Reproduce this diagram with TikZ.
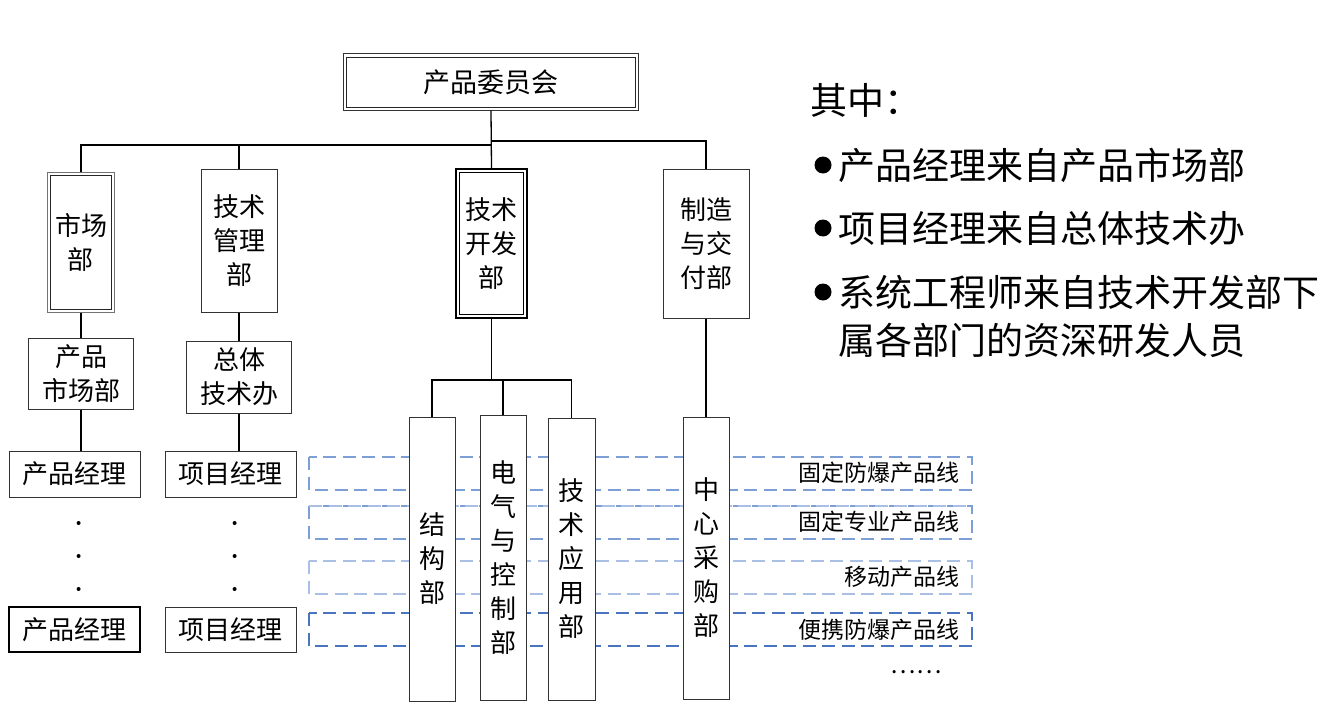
\documentclass[tikz,border=0pt]{standalone}
\usepackage{fontspec}
\setmainfont{Noto Sans CJK SC}
\usetikzlibrary{calc}
\definecolor{lineA}{HTML}{7E9FD6}
\definecolor{lineB}{HTML}{A9C0E4}
\definecolor{lineC}{HTML}{4A74BE}

\begin{document}
\begin{tikzpicture}[x=1pt,y=-1pt,
  box/.style={draw=black!80, line width=1pt, fill=white, align=center, inner sep=0pt,
    font=\fontsize{26}{34}\selectfont},
  conn/.style={line width=1.3pt},
  pline/.style={dash pattern=on 13pt off 6.5pt, line width=1.1pt},
  plabel/.style={inner sep=0pt, anchor=east, font=\fontsize{23}{27}\selectfont},
  note/.style={inner sep=0pt, anchor=west, align=left, font=\fontsize{37}{48}\selectfont}]
\useasboundingbox (0,0) rectangle (1336,717);

% product lines
\draw[pline, lineA] (309,457) rectangle (972,490);
\draw[pline, lineA] (309,506) rectangle (972,539);
\draw[pline, lineB] (309,506) -- (972,506);
\draw[pline, lineB] (309,561) rectangle (972,594);
\draw[pline, lineC, line width=1.6pt] (309,613) rectangle (972,646);
\node[plabel] (pl1) at (960,473) {固定防爆产品线};
\node[plabel] (pl2) at (960,522) {固定专业产品线};
\node[plabel] (pl3) at (960,577) {移动产品线};
\node[plabel] (pl4) at (960,630) {便携防爆产品线};
\node[inner sep=0pt, font=\fontsize{24}{28}\selectfont] (more) at (916,672) {……};

% departments
\node[box, font=\fontsize{27}{34}\selectfont, minimum width=295pt, minimum height=56pt] (board) at (491,82) {产品委员会};
\node[box, draw=black!55, minimum width=67pt, minimum height=140pt] (mkt) at (81,242) {市场\\部};
\node[box, minimum width=76pt, minimum height=143pt] (tech) at (239,240.5) {技术\\管理\\部};
\node[box, draw=black, line width=2.2pt, minimum width=71pt, minimum height=149pt] (dev) at (491.5,243.5) {技术\\开发\\部};
\node[box, minimum width=86pt, minimum height=149pt] (mfg) at (706,243.5) {制造\\与交\\付部};
\draw[black!85] ([xshift=3.5pt,yshift=-3.5pt]board.north west) rectangle ([xshift=-3.5pt,yshift=3.5pt]board.south east);
\draw[black!85] ([xshift=3.5pt,yshift=-3.5pt]mkt.north west) rectangle ([xshift=-3.5pt,yshift=3.5pt]mkt.south east);
\draw[black, line width=1.2pt] ([xshift=4.5pt,yshift=-4.5pt]dev.north west) rectangle ([xshift=-4.5pt,yshift=4.5pt]dev.south east);

\node[box, minimum width=105pt, minimum height=71pt] (pmkt) at (81,373.5) {产品\\市场部};
\node[box, minimum width=105pt, minimum height=72pt] (zt) at (239,377) {总体\\技术办};
\node[box, minimum width=131pt, minimum height=46pt] (pm1) at (74.5,474) {产品经理};
\node[box, minimum width=131pt, minimum height=46pt] (pj1) at (230.5,474) {项目经理};
\node[box, draw=black, line width=2pt, minimum width=131pt, minimum height=45pt] (pm2) at (74.5,629.5) {产品经理};
\node[box, minimum width=131pt, minimum height=45pt] (pj2) at (230.5,629.5) {项目经理};
\foreach \y in {523,556,589} {
  \fill (78.6,\y) circle (2pt);
  \fill (234.6,\y) circle (2pt);
}

\node[box, minimum width=46pt, minimum height=284pt] (struct) at (432,559) {结\\构\\部};
\node[box, minimum width=46pt, minimum height=285pt] (elec) at (503,557.5) {电\\气\\与\\控\\制\\部};
\node[box, minimum width=47pt, minimum height=282pt] (app) at (571.5,559) {技\\术\\应\\用\\部};
\node[box, minimum width=46pt, minimum height=282pt] (purch) at (706,558) {中\\心\\采\\购\\部};

% connectors
\coordinate (busL) at (491,145);
\coordinate (busR) at (491,141);
\coordinate (devbus) at (491.5,380);
\draw[conn] (board.south) -- (dev.north);
\draw[conn] (mkt.north) |- (busL);
\draw[conn] (tech.north) -- (tech.north |- busL);
\draw[conn] (mfg.north) |- (busR);
\draw[conn] (mkt.south) -- (pmkt.north);
\draw[conn] (tech.south) -- (zt.north);
\draw[conn] (pmkt.south) -- (pmkt.south |- pm1.north);
\draw[conn] (zt.south) -- (zt.south |- pj1.north);
\draw[conn] (dev.south) -- (devbus);
\draw[conn] (struct.north) |- (devbus) -| (app.north);
\draw[conn] (elec.north) -- (elec.north |- devbus);
\draw[conn] (mfg.south) -- (purch.north);

% notes
\node[note] (n0) at (810,100) {其中：};
\fill (823,165) circle (8.5pt);
\fill (823,228) circle (8.5pt);
\fill (823,292) circle (8.5pt);
\node[note] (n1) at (838,165) {产品经理来自产品市场部};
\node[note] (n2) at (838,228) {项目经理来自总体技术办};
\node[note] (n3) at (838,316) {系统工程师来自技术开发部下\\属各部门的资深研发人员};
\end{tikzpicture}
\end{document}
